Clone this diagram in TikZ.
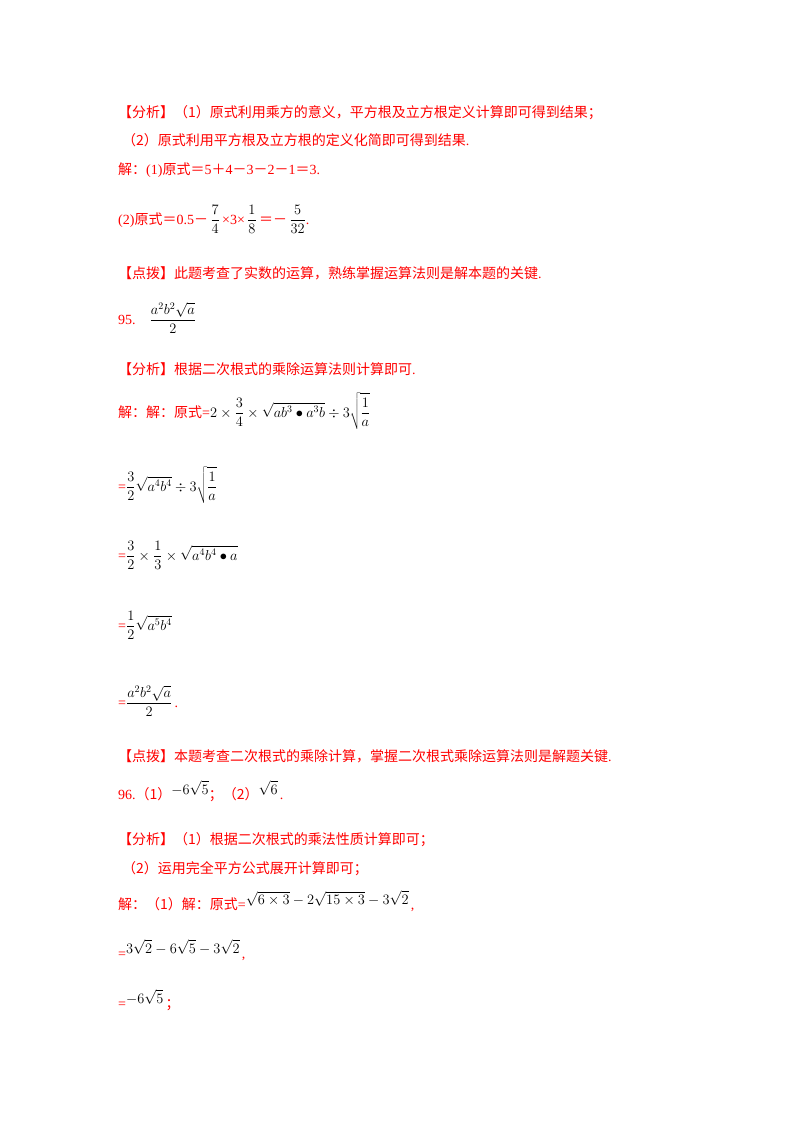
\documentclass[tikz,border=0pt]{standalone}
\usepackage{fontspec}
\setmainfont{Liberation Serif}
\newfontfamily\cjk{Noto Sans CJK SC}
\newcommand{\zh}[1]{{\cjk #1}}
\newcommand{\mth}[1]{{\color{black}$\displaystyle #1$}}
\tikzset{ln/.style={anchor=base west,inner sep=0pt,text=red,font=\fontsize{14}{16}\selectfont}}
\begin{document}
\begin{tikzpicture}[x=1pt,y=-1pt]
\useasboundingbox[fill=white] (0,0) rectangle (800,1132);
\node[ln] (l1) at (118,117) {\zh{【分析】（1）原式利用乘方的意义，平方根及立方根定义计算即可得到结果；}};
\node[ln] (l2) at (122,145) {\zh{（2）原式利用平方根及立方根的定义化简即可得到结果}.};
\node[ln] (l3) at (118,174) {\zh{解：}(1)\zh{原式＝}5\zh{＋}4\zh{－}3\zh{－}2\zh{－}1\zh{＝}3.};
\node[ln] (l4) at (118,224) {(2)\zh{原式＝}0.5\zh{－}\,\mth{\frac{7}{4}}\,{\color{red}×3×}\,\mth{\frac{1}{8}}\,\zh{＝－}\,\mth{\frac{5}{32}}.};
\node[ln] (l5) at (118,278) {\zh{【点拨】此题考查了实数的运算，熟练掌握运算法则是解本题的关键}.};
\node[ln] (l6) at (118,324) {95.\quad\mth{\frac{a^2b^2\sqrt{a}}{2}}};
\node[ln] (l7) at (118,374) {\zh{【分析】根据二次根式的乘除运算法则计算即可}.};
\node[ln] (l8) at (118,417) {\zh{解：解：原式}=\mth{2\times\frac{3}{4}\times\sqrt{ab^3\bullet a^3b}\div 3\sqrt{\frac{1}{a}}}};
\node[ln] (l9) at (118,491) {=\mth{\frac{3}{2}\sqrt{a^4b^4}\div 3\sqrt{\frac{1}{a}}}};
\node[ln] (l10) at (118,560) {=\mth{\frac{3}{2}\times\frac{1}{3}\times\sqrt{a^4b^4\bullet a}}};
\node[ln] (l11) at (118,630) {=\mth{\frac{1}{2}\sqrt{a^5b^4}}};
\node[ln] (l12) at (118,707) {=\mth{\frac{a^2b^2\sqrt{a}}{2}}\,.};
\node[ln] (l13) at (118,761) {\zh{【点拨】本题考查二次根式的乘除计算，掌握二次根式乘除运算法则是解题关键}.};
\node[ln] (l14) at (118,799) {96.\zh{（1）}\raisebox{5pt}{\mth{-6\sqrt{5}}}\zh{；（2）}\raisebox{5pt}{\mth{\sqrt{6}}}\,.};
\node[ln] (l15) at (118,844) {\zh{【分析】（1）根据二次根式的乘法性质计算即可；}};
\node[ln] (l16) at (122,873) {\zh{（2）运用完全平方公式展开计算即可；}};
\node[ln] (l17) at (118,909) {\zh{解：（1）解：原式}=\raisebox{5pt}{\mth{\sqrt{6\times3}-2\sqrt{15\times3}-3\sqrt{2}}}\,,};
\node[ln] (l18) at (118,958) {=\raisebox{5pt}{\mth{3\sqrt{2}-6\sqrt{5}-3\sqrt{2}}}\,,};
\node[ln] (l19) at (118,1008) {=\raisebox{5pt}{\mth{-6\sqrt{5}}}\,\zh{；}};
\end{tikzpicture}
\end{document}
